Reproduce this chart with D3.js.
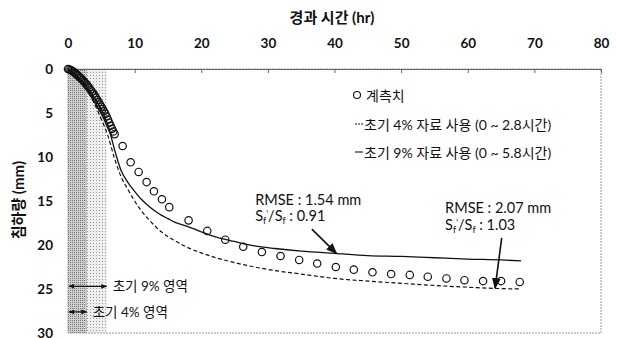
<!DOCTYPE html>
<html>
<head>
<meta charset="utf-8">
<script src="https://cdn.jsdelivr.net/npm/d3@7"></script>
<style>
  html, body { margin: 0; padding: 0; background: #fff; }
  svg { display: block; }
  text { font-family: Lato, "Noto Sans CJK KR", sans-serif; fill: #111; }
</style>
</head>
<body>
<svg id="chart" width="617" height="338"></svg>
<script>
// Elapsed time (hr) and measured settlement (mm)
const obsTime = [0, 0.2, 0.4, 0.6, 0.8, 1.0, 1.2, 1.4, 1.6, 1.8, 2.0, 2.2, 2.4, 2.6, 2.8, 3.0, 3.2, 3.4,
  3.6, 3.8, 4.0, 4.2, 4.4, 4.6, 4.8, 5.0, 5.2, 5.4, 5.6, 5.8, 6.0, 6.2, 6.4, 6.6, 6.8, 7.0,
  8.2, 9.4, 10.6, 11.8, 12.9, 14.1, 15.2, 18.1, 20.9, 23.6, 26.3, 29.1, 31.9, 34.7, 37.4,
  40.2, 42.9, 45.7, 48.5, 51.3, 54.0, 56.8, 59.5, 62.3, 65.0, 67.8];
const obsSettle = [0, 0.05, 0.12, 0.2, 0.3, 0.42, 0.55, 0.68, 0.82, 0.96, 1.1, 1.25, 1.42, 1.6, 1.78, 1.96, 2.15, 2.36,
  2.58, 2.8, 3.03, 3.27, 3.52, 3.78, 4.05, 4.3, 4.55, 4.8, 5.1, 5.4, 5.75, 6.1, 6.45, 6.8, 7.1, 7.4,
  8.75, 10.6, 11.7, 12.85, 13.9, 14.8, 15.7, 17.2, 18.4, 19.4, 20.2, 20.8, 21.25, 21.7, 22.1,
  22.5, 22.8, 23.1, 23.3, 23.4, 23.6, 23.8, 24.0, 24.1, 24.1, 24.2];

// Prediction fitted to the first 4% of the record (0 ~ 2.8 hr)
const fit4Time = [0, 1, 2, 3, 4, 5, 6, 7, 8, 9, 10, 11, 12, 13, 14, 15, 16, 18, 20, 22, 25, 28, 31, 35, 40, 45, 50, 55, 60, 65, 68];
const fit4Settle = [0, 0.6, 1.5, 2.6, 4.0, 5.7, 7.6, 10.2, 12.3, 13.7, 15.0, 16.1, 17.0, 17.8, 18.5, 19.05, 19.5, 20.3, 20.9, 21.4, 22.0, 22.5, 22.9, 23.3, 23.8, 24.1, 24.35, 24.6, 24.8, 24.95, 25.0];

// Prediction fitted to the first 9% of the record (0 ~ 5.8 hr)
const fit9Time = [0, 1, 2, 3, 4, 5, 6, 7, 8, 9, 10, 11, 12, 13, 14, 15, 16, 18, 20, 22, 25, 28, 31, 35, 40, 45, 50, 55, 60, 65, 68];
const fit9Settle = [0, 0.55, 1.3, 2.2, 3.3, 4.6, 6.4, 9.2, 11.6, 12.9, 13.9, 14.8, 15.5, 16.1, 16.6, 17.0, 17.4, 17.9, 18.5, 19.05, 19.6, 20.1, 20.4, 20.7, 20.95, 21.2, 21.3, 21.45, 21.6, 21.7, 21.8];

// Fitting windows (hr)
const windowEnds = [2.8, 5.8];
const windowLabels = ["초기 4% 영역", "초기 9% 영역"];

const xTicks = [0, 10, 20, 30, 40, 50, 60, 70, 80];
const yTicks = [0, 5, 10, 15, 20, 25, 30];

const legendLabels = ["계측치", "초기 4% 자료 사용 (0 ~ 2.8시간)", "초기 9% 자료 사용 (0 ~ 5.8시간)"];
const fitStats = [
  { rmse: "1.54", ratio: "0.91" },
  { rmse: "2.07", ratio: "1.03" }
];

const svg = d3.select("#chart");
const x = d3.scaleLinear().domain([0, 80]).range([68, 601]);
const y = d3.scaleLinear().domain([0, 30]).range([69, 333]);

// Textures for the fitting windows
const defs = svg.append("defs");
const pDark = defs.append("pattern").attr("id", "pDark").attr("width", 2).attr("height", 2).attr("patternUnits", "userSpaceOnUse");
pDark.append("rect").attr("width", 2).attr("height", 2).attr("fill", "#cfcfcf");
pDark.append("rect").attr("width", 1).attr("height", 1).attr("fill", "#777");
const pLight = defs.append("pattern").attr("id", "pLight").attr("width", 3).attr("height", 3).attr("patternUnits", "userSpaceOnUse");
pLight.append("rect").attr("width", 3).attr("height", 3).attr("fill", "#eeeeee");
pLight.append("rect").attr("width", 1).attr("height", 1).attr("fill", "#999");

defs.append("marker").attr("id", "ah")
  .attr("viewBox", "0 0 10 10").attr("refX", 9).attr("refY", 5)
  .attr("markerWidth", 7).attr("markerHeight", 7).attr("orient", "auto-start-reverse")
  .append("path").attr("d", "M0,1 L10,5 L0,9 Z").attr("fill", "#111");
defs.append("marker").attr("id", "ahs")
  .attr("viewBox", "0 0 10 10").attr("refX", 9).attr("refY", 5)
  .attr("markerWidth", 5).attr("markerHeight", 5).attr("orient", "auto-start-reverse")
  .append("path").attr("d", "M0,1 L10,5 L0,9 Z").attr("fill", "#111");

// Shaded fitting windows
svg.append("rect").attr("x", x(0)).attr("y", y(0))
  .attr("width", x(windowEnds[1]) - x(0)).attr("height", y(30) - y(0))
  .attr("fill", "url(#pLight)");
svg.append("rect").attr("x", x(0)).attr("y", y(0))
  .attr("width", x(windowEnds[0]) - x(0)).attr("height", y(30) - y(0))
  .attr("fill", "url(#pDark)");

// Plot frame
svg.append("rect").attr("x", x(0)).attr("y", y(0))
  .attr("width", x(80) - x(0)).attr("height", y(30) - y(0))
  .attr("fill", "none").attr("stroke", "#9a9a9a").attr("stroke-width", 1)
  .attr("stroke-dasharray", "2,1");

// Top time axis, ticks pointing into the plot
const xAxis = svg.append("g").attr("transform", `translate(0,${y(0)})`)
  .call(d3.axisTop(x).tickValues(xTicks).tickSize(-4).tickPadding(21.5).tickFormat(d3.format("d")));
xAxis.select(".domain").attr("stroke", "#666");
xAxis.selectAll(".tick line").attr("stroke", "#666");
xAxis.selectAll("text").attr("font-size", 13.5).attr("font-weight", 700).attr("fill", "#222")
  .attr("font-family", "Lato, 'Noto Sans CJK KR', sans-serif");

// Left settlement axis
const yAxis = svg.append("g").attr("transform", `translate(${x(0)},0)`)
  .call(d3.axisLeft(y).tickValues(yTicks).tickSize(0).tickPadding(15).tickFormat(d3.format("d")));
yAxis.select(".domain").remove();
yAxis.selectAll("text").attr("font-size", 13.5).attr("font-weight", 700).attr("fill", "#222")
  .attr("font-family", "Lato, 'Noto Sans CJK KR', sans-serif");

// Axis titles
svg.append("text").attr("x", 332).attr("y", 23).attr("text-anchor", "middle")
  .attr("font-size", 15).attr("font-weight", 700).text("경과 시간 (hr)");
svg.append("text").attr("transform", "translate(24,200) rotate(-90)").attr("text-anchor", "middle")
  .attr("font-size", 15).attr("font-weight", 700).text("침하량 (mm)");

// Prediction curves
const line = d3.line().x(d => x(d[0])).y(d => y(d[1])).curve(d3.curveMonotoneX);
svg.append("path").datum(d3.zip(fit4Time, fit4Settle)).attr("d", line)
  .attr("fill", "none").attr("stroke", "#111").attr("stroke-width", 1.2).attr("stroke-dasharray", "4,2.5");
svg.append("path").datum(d3.zip(fit9Time, fit9Settle)).attr("d", line)
  .attr("fill", "none").attr("stroke", "#111").attr("stroke-width", 1.3);

// Measured settlement
svg.append("g").selectAll("circle").data(d3.zip(obsTime, obsSettle)).join("circle")
  .attr("cx", d => x(d[0])).attr("cy", d => y(d[1])).attr("r", 3.7)
  .attr("fill", "none").attr("stroke", "#111").attr("stroke-width", 1.2);

// Legend
const lg = svg.append("g");
lg.append("circle").attr("cx", 357).attr("cy", 95).attr("r", 3.5)
  .attr("fill", "#fff").attr("stroke", "#111").attr("stroke-width", 1.1);
lg.append("line").attr("x1", 355).attr("x2", 363).attr("y1", 124).attr("y2", 124)
  .attr("stroke", "#111").attr("stroke-width", 1).attr("stroke-dasharray", "2,1");
lg.append("line").attr("x1", 355).attr("x2", 363).attr("y1", 152).attr("y2", 152)
  .attr("stroke", "#111").attr("stroke-width", 1.1);
[96, 125, 153].forEach((cy, i) => {
  lg.append("text").attr("x", i === 0 ? 366 : 364).attr("y", cy).attr("dy", "0.35em")
    .attr("font-size", 14).text(legendLabels[i]);
});

// Statistics labels with arrows to the curves
function statLabel(tx, ty, s) {
  const g = svg.append("g");
  g.append("text").attr("x", tx).attr("y", ty).attr("font-size", 14.5)
    .text(`RMSE : ${s.rmse} mm`);
  const t = g.append("text").attr("x", tx).attr("y", ty + 16.5).attr("font-size", 14.5);
  t.append("tspan").text("S");
  t.append("tspan").attr("dy", 3).attr("font-size", 9).text("f");
  t.append("tspan").attr("dy", -7).attr("font-size", 9).text("'");
  t.append("tspan").attr("dy", 4).text("/S");
  t.append("tspan").attr("dy", 3).attr("font-size", 9).text("f");
  t.append("tspan").attr("dy", -3).text(` : ${s.ratio}`);
}
statLabel(x(28.1), y(15.45), fitStats[0]);
statLabel(x(56.6), y(16.4), fitStats[1]);

svg.append("line").attr("x1", x(36.6)).attr("y1", y(18.2)).attr("x2", x(40.3)).attr("y2", y(20.95))
  .attr("stroke", "#111").attr("stroke-width", 1.6).attr("marker-end", "url(#ah)");
svg.append("line").attr("x1", x(65.1)).attr("y1", y(19.2)).attr("x2", x(64.1)).attr("y2", y(24.9))
  .attr("stroke", "#111").attr("stroke-width", 1.6).attr("marker-end", "url(#ah)");

// Fitting-window span markers
const spans = [
  { end: windowEnds[1], cy: y(24.7), label: windowLabels[1] },
  { end: windowEnds[0], cy: y(27.6), label: windowLabels[0] }
];
spans.forEach(s => {
  svg.append("line").attr("x1", x(0) + 1).attr("x2", x(s.end)).attr("y1", s.cy).attr("y2", s.cy)
    .attr("stroke", "#111").attr("stroke-width", 1.2)
    .attr("marker-start", "url(#ahs)").attr("marker-end", "url(#ahs)");
  svg.append("text").attr("x", x(s.end) + 6).attr("y", s.cy).attr("dy", "0.35em")
    .attr("font-size", 13.5).text(s.label);
});
</script>
</body>
</html>
